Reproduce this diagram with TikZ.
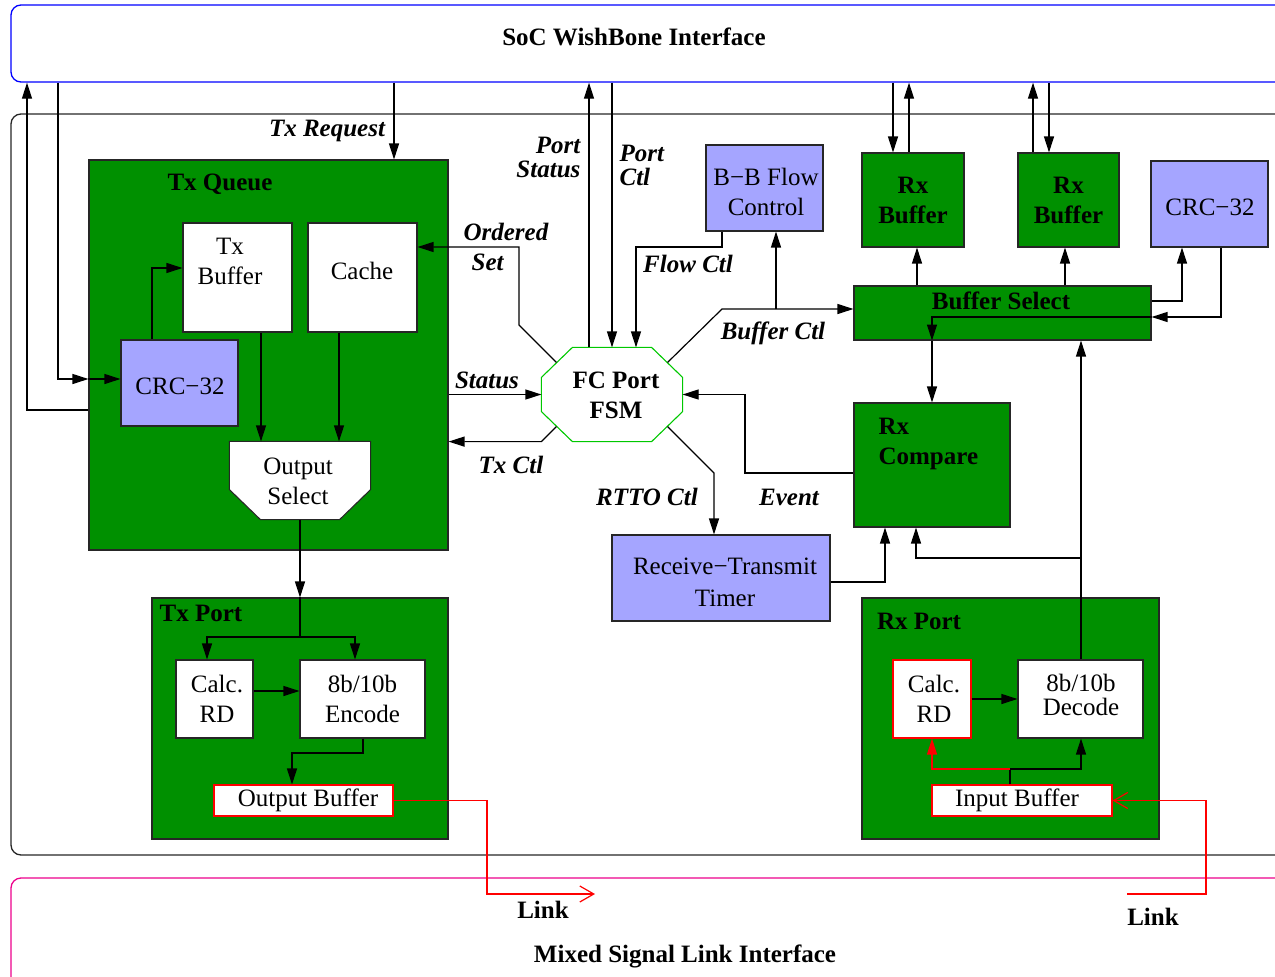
\documentclass[tikz,border=0pt]{standalone}
\usepackage{fontspec}
\setmainfont{Liberation Serif}
\usetikzlibrary{arrows.meta}
\definecolor{fsgreen}{RGB}{0,144,0}
\definecolor{fslav}{RGB}{165,165,255}
\definecolor{fsmgreen}{RGB}{0,200,0}
\newcommand\figsz{\fontsize{25}{30}\selectfont}

\begin{document}
\begin{tikzpicture}[x=1pt,y=-1pt,>={Triangle[length=16pt,width=10pt]},line width=1.2pt,
		every node/.append style={align=center,font=\figsz},
		box/.style={draw=black!85,line width=1.1pt,inner sep=0pt},
		grnbox/.style={box,fill=fsgreen},
		lavbox/.style={box,fill=fslav},
		whtbox/.style={box,fill=white},
		redbox/.style={box,draw=red,fill=white},
		frame/.style={rounded corners=10pt,line width=1.3pt,minimum width=1289pt,inner sep=0pt},
		sig/.style={font=\figsz\bfseries\itshape,inner sep=0pt},
		ttl/.style={font=\figsz\bfseries,inner sep=0pt},
		link/.style={draw=red,-{Straight Barb[length=14pt,width=16pt]}}]
		\useasboundingbox (0,0) rectangle (1275,977);
		
		% outer frames
		\node[frame,draw=blue,minimum height=77pt] (soc) at (655.5,43.5) {};
		\node[ttl] (soclbl) at (634,37) {SoC WishBone Interface};
		\node[frame,draw=black!85,minimum height=741pt] (core) at (655.5,484.5) {};
		\node[frame,draw=magenta,minimum height=132pt] (msl) at (655.5,944) {};
		\node[ttl] (msllbl) at (685,956) {Mixed Signal Link Interface};
		
		% Tx queue
		\node[grnbox,minimum width=359pt,minimum height=390pt] (txq) at (268.5,355) {};
		\node[ttl] (txqlbl) at (220,184) {Tx Queue};
		\node[whtbox,minimum width=109pt,minimum height=109pt] (txbuf) at (237.5,277.5) {};
		\node (txbuflbl) at (230,261) {Tx\\Buffer};
		\node[whtbox,minimum width=109pt,minimum height=109pt] (cache) at (362.5,277.5) {};
		\node (cachelbl) at (362,271) {Cache};
		\node[lavbox,minimum width=117pt,minimum height=86pt] (crcl) at (179.5,383) {};
		\node (crcllbl) at (180,386) {CRC−32};
		\node[minimum width=140pt,minimum height=77pt,inner sep=0pt] (osel) at (300,480.5) {};
		\draw[box,fill=white] (osel.north west) -- (osel.north east) -- ([yshift=30pt]osel.south east) -- ([xshift=-31pt]osel.south east) -- ([xshift=31pt]osel.south west) -- ([yshift=30pt]osel.south west) -- cycle;
		\node (osellbl) at (298,481) {Output\\Select};
		
		% Tx port
		\node[grnbox,minimum width=296pt,minimum height=241pt] (txp) at (300,718.5) {};
		\node[ttl] (txplbl) at (201,613) {Tx Port};
		\node[whtbox,minimum width=77pt,minimum height=78pt] (calct) at (214.5,699) {};
		\node (calctlbl) at (217,699) {Calc.\\RD};
		\node[whtbox,minimum width=125pt,minimum height=78pt] (enc) at (362.5,699) {8b/10b\\Encode};
		\node[redbox,minimum width=179pt,minimum height=31pt] (obuf) at (303.5,800.5) {};
		\node (obuflbl) at (308,800) {Output Buffer};
		
		% Rx port
		\node[grnbox,minimum width=297pt,minimum height=241pt] (rxp) at (1010.5,718.5) {};
		\node[ttl] (rxplbl) at (919,621) {Rx Port};
		\node[redbox,minimum width=78pt,minimum height=78pt] (calcr) at (932,699) {};
		\node (calcrlbl) at (934,699) {Calc.\\RD};
		\node[whtbox,minimum width=125pt,minimum height=78pt] (dec) at (1080.5,699) {};
		\node (declbl) at (1081,695) {8b/10b\\[-6pt]Decode};
		\node[redbox,minimum width=180pt,minimum height=31pt] (ibuf) at (1022,800.5) {};
		\node (ibuflbl) at (1017,800) {Input Buffer};
		
		% FC port FSM
		\node[minimum width=140pt,minimum height=93pt,inner sep=0pt] (fsm) at (612,394.5) {};
		\draw[fsmgreen,line width=1.1pt] ([xshift=31pt]fsm.north west) -- ([xshift=-31pt]fsm.north east) -- ([yshift=-30pt]fsm.north east) -- ([yshift=30pt]fsm.south east) -- ([xshift=-31pt]fsm.south east) -- ([xshift=31pt]fsm.south west) -- ([yshift=30pt]fsm.south west) -- ([yshift=-30pt]fsm.north west) -- cycle;
		\node[ttl] (fsmlbl) at (616,395) {FC Port\\FSM};
		
		% receive side
		\node[lavbox,minimum width=117pt,minimum height=86pt] (bbf) at (764.5,188) {};
		\node (bbflbl) at (766,192) {B−B Flow\\Control};
		\node[grnbox,minimum width=102pt,minimum height=94pt,font=\figsz\bfseries] (rxb1) at (913,200) {Rx\\Buffer};
		\node[grnbox,minimum width=101pt,minimum height=94pt,font=\figsz\bfseries] (rxb2) at (1068.5,200) {Rx\\Buffer};
		\node[lavbox,minimum width=117pt,minimum height=86pt] (crcr) at (1209.5,204) {};
		\node (crcrlbl) at (1210,207) {CRC−32};
		\node[grnbox,minimum width=297pt,minimum height=54pt] (bsel) at (1002.5,313) {};
		\node[ttl] (bsellbl) at (1001,301) {Buffer Select};
		\node[grnbox,minimum width=156pt,minimum height=124pt] (rxc) at (932,465) {};
		\node[ttl,align=left,anchor=north west] (rxclbl) at (878,418) {Rx\\Compare};
		\node[lavbox,minimum width=218pt,minimum height=86pt] (rtt) at (721,578) {};
		\node (rttlbl) at (725,582) {Receive−Transmit\\[2pt]Timer};
		
		% signal names
		\node[sig] (lreq) at (327,131) {Tx Request};
		\node[sig,align=right,anchor=east] (lpst) at (581,157) {Port\\[-6pt]Status};
		\node[sig,align=left,anchor=west] (lpctl) at (619,165) {Port\\[-6pt]Ctl};
		\node[sig,align=left,anchor=west] (lord) at (463,247) {Ordered\\\hspace*{8pt}Set};
		\node[sig] (lflow) at (688,264) {Flow Ctl};
		\node[sig] (lbctl) at (773,333) {Buffer Ctl};
		\node[sig] (lstat) at (487,380) {Status};
		\node[sig] (ltxctl) at (511,465) {Tx Ctl};
		\node[sig] (lrtto) at (647,497) {RTTO Ctl};
		\node[sig] (levent) at (789,497) {Event};
		\node[ttl] (llinka) at (543,910) {Link};
		\node[ttl] (llinkb) at (1153,917) {Link};
		\coordinate (linkout) at (595,894);
		\coordinate (linkin) at (1127,894);
		
		% to and from the SoC bus
		\draw[->] (txq.west |- 0,410) -| (soc.south -| 27,0);
		\draw[->] (soc.south -| 58,0) |- (txq.west |- 0,379);
		\draw[->] (txq.west |- 0,379) -- (crcl.west |- 0,379);
		\draw[->] (soc.south -| 394,0) -- (txq.north -| 394,0);
		\draw[->] (fsm.north -| 589,0) -- (soc.south -| 589,0);
		\draw[->] (soc.south -| 612,0) -- (fsm.north -| 612,0);
		\draw[->] (soc.south -| 893,0) -- (rxb1.north -| 893,0);
		\draw[->] (rxb1.north -| 909,0) -- (soc.south -| 909,0);
		\draw[->] (rxb2.north -| 1033,0) -- (soc.south -| 1033,0);
		\draw[->] (soc.south -| 1049,0) -- (rxb2.north -| 1049,0);
		
		% transmit side
		\draw[->] (crcl.north -| 152,0) |- (txbuf.west |- 0,268);
		\draw[->] (txbuf.south -| 261,0) -- (osel.north -| 261,0);
		\draw[->] (cache.south -| 339,0) -- (osel.north -| 339,0);
		\draw[->] (osel.south) -- (txp.north);
		\draw[->] (txp.north) -- (300,637) -| (calct.north -| 207,0);
		\draw[->] (300,637) -| (enc.north -| 355,0);
		\draw[->] (calct.east |- 0,691) -- (enc.west |- 0,691);
		\draw[->] (enc.south -| 363,0) |- (292,753) -- (obuf.north -| 292,0);
		\draw[link] (obuf.east) -| (487,894) -- (linkout);
		
		% around the FSM
		\draw[->] (txq.east |- fsm.west) -- (fsm.west);
		\draw[->] ([xshift=15pt,yshift=15pt]fsm.south west) -- (fsm.south west) -- (txq.east |- fsm.south west);
		\draw[->] ([xshift=15pt,yshift=-15pt]fsm.north west) -- (519,325) -- (519,247) -- (cache.east |- 0,247);
		\draw[->] ([xshift=-15pt,yshift=-15pt]fsm.north east) -- (722,309) -- (bsel.west |- 0,309);
		\draw[->] (776,309) -- (bbf.south -| 776,0);
		\draw[->] (bbf.south -| 722,0) |- (636,247) -- (fsm.north -| 636,0);
		\draw[->] ([xshift=-15pt,yshift=15pt]fsm.south east) -- (714,473) -- (rtt.north -| 714,0);
		\draw[->] (rxc.west |- 0,473) -| (fsm.east -| 745,0) -- (fsm.east);
		
		% receive side
		\draw[->] (rtt.east |- 0,582) -| (rxc.south -| 885,0);
		\draw[->] (dec.north -| 1081,0) -- (bsel.south -| 1081,0);
		\draw[->] (1081,558) -| (rxc.south -| 916,0);
		\draw[->] (bsel.north -| 917,0) -- (rxb1.south -| 917,0);
		\draw[->] (bsel.north -| 1065,0) -- (rxb2.south -| 1065,0);
		\draw[->] (bsel.east |- 0,301) -| (crcr.south -| 1182,0);
		\draw[->] (crcr.south -| 1221,0) |- (bsel.east |- 0,317);
		\draw[->] (bsel.east |- 0,317) -| (bsel.south -| 932,0);
		\draw[->] (bsel.south -| 932,0) -- (rxc.north -| 932,0);
		\draw[->] (calcr.east) -- (dec.west |- calcr.east);
		\draw (ibuf.north -| 1010,0) -- (1010,769);
		\draw[red,->] (1010,769) -| (calcr.south);
		\draw[->] (1010,769) -| (dec.south -| 1081,0);
		\draw[link] (linkin) -| (1206,800.5) -- (ibuf.east);
	\end{tikzpicture}
\end{document}
